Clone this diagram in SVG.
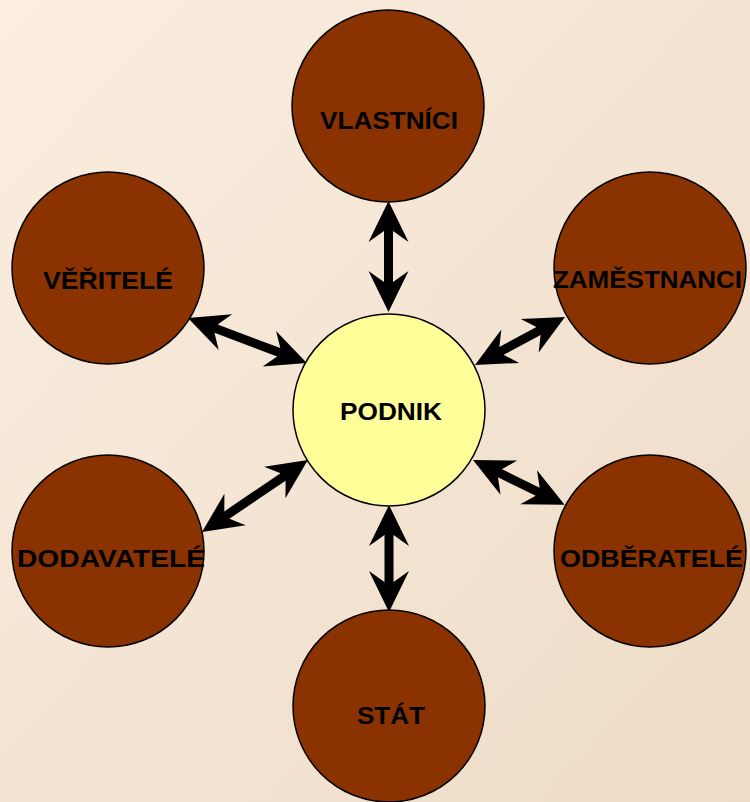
<svg xmlns="http://www.w3.org/2000/svg" width="750" height="802" viewBox="0 0 750 802">
  <defs>
    <linearGradient id="bg" x1="0" y1="0" x2="1" y2="1">
      <stop offset="0" stop-color="#FBEEE0"/>
      <stop offset="1" stop-color="#EDDBC6"/>
    </linearGradient>
    <style>
      .party { fill: #8B3300; stroke: #000; stroke-width: 1.5; }
      .core { fill: #FFFF99; stroke: #000; stroke-width: 1.5; }
      .lbl { font-family: "Liberation Sans", Arial, sans-serif; font-weight: bold; font-size: 23px; fill: #000; text-anchor: middle; }
      .arrow { fill: #000; }
    </style>
  </defs>

  <rect x="0" y="0" width="750" height="802" fill="url(#bg)"/>

  <!-- two-way relationships between the firm and its stakeholders -->
  <g id="connectors">
    <path class="arrow" transform="translate(388.5,201) rotate(90)" d="M0,0 L41,-20 L30,-4.5 L81,-4.5 L70,-20 L111,0 L70,20 L81,4.5 L30,4.5 L41,20 Z"/>
    <path class="arrow" transform="translate(389,505) rotate(90)" d="M0,0 L41,-20 L30,-4.5 L77,-4.5 L66,-20 L107,0 L66,20 L77,4.5 L30,4.5 L41,20 Z"/>
    <path class="arrow" transform="translate(188,318) rotate(20.7)" d="M0,0 L40,-19 L30,-4.5 L97,-4.5 L87,-19 L127,0 L87,19 L97,4.5 L30,4.5 L40,19 Z"/>
    <path class="arrow" transform="translate(475,365) rotate(-28.1)" d="M0,0 L40,-19 L30,-4.5 L72,-4.5 L62,-19 L102,0 L62,19 L72,4.5 L30,4.5 L40,19 Z"/>
    <path class="arrow" transform="translate(202,532) rotate(-34.2)" d="M0,0 L40,-19 L30,-4.5 L98,-4.5 L88,-19 L128,0 L88,19 L98,4.5 L30,4.5 L40,19 Z"/>
    <path class="arrow" transform="translate(473,460) rotate(26.1)" d="M0,0 L40,-19 L30,-4.5 L72,-4.5 L62,-19 L102,0 L62,19 L72,4.5 L30,4.5 L40,19 Z"/>
  </g>

  <g id="vlastnici">
    <circle class="party" cx="388" cy="106" r="96"/>
    <text class="lbl" x="389" y="129" textLength="138" lengthAdjust="spacingAndGlyphs">VLASTNÍCI</text>
  </g>

  <g id="veritele">
    <circle class="party" cx="108" cy="268" r="96"/>
    <text class="lbl" x="108" y="289" textLength="130" lengthAdjust="spacingAndGlyphs">VĚŘITELÉ</text>
  </g>

  <g id="zamestnanci">
    <circle class="party" cx="650" cy="268" r="96"/>
    <text class="lbl" x="647.5" y="288" textLength="189" lengthAdjust="spacingAndGlyphs">ZAMĚSTNANCI</text>
  </g>

  <g id="podnik">
    <circle class="core" cx="389" cy="410" r="96"/>
    <text class="lbl" x="391" y="420" textLength="102" lengthAdjust="spacingAndGlyphs">PODNIK</text>
  </g>

  <g id="dodavatele">
    <circle class="party" cx="108" cy="551" r="96"/>
    <text class="lbl" x="111" y="567" textLength="188" lengthAdjust="spacingAndGlyphs">DODAVATELÉ</text>
  </g>

  <g id="odberatele">
    <circle class="party" cx="650" cy="551" r="96"/>
    <text class="lbl" x="651.5" y="567" textLength="183" lengthAdjust="spacingAndGlyphs">ODBĚRATELÉ</text>
  </g>

  <g id="stat">
    <circle class="party" cx="389" cy="706" r="96"/>
    <text class="lbl" x="391" y="724" textLength="68" lengthAdjust="spacingAndGlyphs">STÁT</text>
  </g>
</svg>
